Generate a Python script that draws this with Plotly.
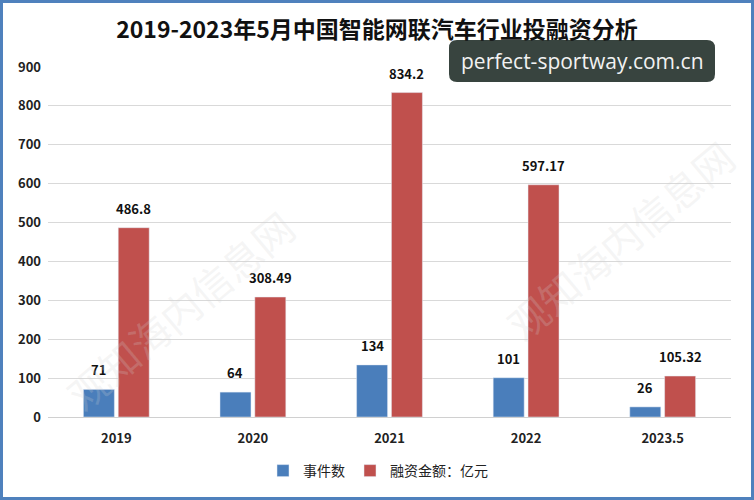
import plotly.graph_objects as go

categories = ["2019", "2020", "2021", "2022", "2023.5"]
events = [71, 64, 134, 101, 26]
amounts = [486.8, 308.49, 834.2, 597.17, 105.32]
amount_labels = ["486.8", "308.49", "834.2", "597.17", "105.32"]
y_ticks = [0, 100, 200, 300, 400, 500, 600, 700, 800, 900]

W, H = 754, 500
L, R, T, B = 48, 23, 67, 83
pw, ph = W - L - R, H - T - B

def px(x):
    return (x - L) / pw

def py(y):
    return (H - B - y) / ph

FONT = "Noto Sans CJK SC"
lab_font = dict(size=13, color="#111", family=FONT, weight="bold")
BARGAP = 0.49
slot_px = pw / len(categories) * (1 - BARGAP) / 2

fig = go.Figure()
fig.add_trace(go.Bar(x=categories, y=events, name="事件数", marker_color="#4a7ebb"))
fig.add_trace(go.Bar(x=categories, y=amounts, name="融资金额：亿元", marker_color="#c0504d"))

# value labels above bars (x given as category index)
for i, v in enumerate(events):
    fig.add_annotation(x=i, y=v, xref="x", yref="y", text=str(v), showarrow=False,
                       xanchor="center", yanchor="bottom", xshift=-slot_px / 2, yshift=8,
                       font=lab_font)
for i, (v, t) in enumerate(zip(amounts, amount_labels)):
    fig.add_annotation(x=i, y=v, xref="x", yref="y", text=t, showarrow=False,
                       xanchor="center", yanchor="bottom", xshift=slot_px / 2, yshift=8,
                       font=lab_font)

fig.update_layout(
    width=W, height=H,
    margin=dict(l=L, r=R, t=T, b=B),
    paper_bgcolor="white", plot_bgcolor="white",
    bargap=BARGAP, bargroupgap=0.11,
    title=dict(text="<b>2019-2023年5月中国智能网联汽车行业投融资分析</b>",
               x=0.5, xanchor="center", y=1 - 30 / H, yanchor="middle",
               font=dict(size=23, color="#111", family=FONT)),
    xaxis=dict(type="category", categoryorder="array", categoryarray=categories,
               tickfont=dict(size=13, color="#222", family=FONT, weight="bold"),
               showline=True, linecolor="#d0d0d0", ticks="", showgrid=False,
               ticklabelstandoff=9),
    yaxis=dict(range=[0, 900], tickvals=y_ticks, showgrid=True, gridcolor="#d9d9d9",
               zeroline=False,
               tickfont=dict(size=13, color="#222", family=FONT, weight="bold"),
               ticklabelstandoff=6),
    legend=dict(orientation="h", x=px(378), xanchor="center", y=py(471), yanchor="middle",
                font=dict(size=14, color="#222", family=FONT),
                itemwidth=30, traceorder="normal"),
    showlegend=True,
)

# Faint background watermarks
for (xx, yy) in [(180, 310), (620, 240)]:
    fig.add_annotation(x=px(xx), y=py(yy), xref="paper", yref="paper",
                       xanchor="center", yanchor="middle",
                       text="观知海内信息网", showarrow=False, textangle=-40,
                       font=dict(size=40, color="rgba(210,210,210,0.22)", family=FONT))

# Blue border around image
fig.add_shape(type="rect", xref="paper", yref="paper",
              x0=px(1.5), x1=px(W - 1.5), y0=py(H - 1.5), y1=py(1.5),
              line=dict(color="#4f81bd", width=3), layer="above")

# Dark rounded badge with site text
x0, x1, y0, y1, r = 449, 715, 40, 82, 8
path = (f"M {px(x0 + r)},{py(y0)} L {px(x1 - r)},{py(y0)} "
        f"Q {px(x1)},{py(y0)} {px(x1)},{py(y0 + r)} L {px(x1)},{py(y1 - r)} "
        f"Q {px(x1)},{py(y1)} {px(x1 - r)},{py(y1)} L {px(x0 + r)},{py(y1)} "
        f"Q {px(x0)},{py(y1)} {px(x0)},{py(y1 - r)} L {px(x0)},{py(y0 + r)} "
        f"Q {px(x0)},{py(y0)} {px(x0 + r)},{py(y0)} Z")
fig.add_shape(type="path", path=path, xref="paper", yref="paper",
              fillcolor="#38443f", line=dict(width=0), layer="above")
fig.add_annotation(x=px((x0 + x1) / 2), y=py((y0 + y1) / 2), xref="paper", yref="paper",
                   xanchor="center", yanchor="middle",
                   text="perfect-sportway.com.cn", showarrow=False,
                   font=dict(size=21, color="#f2f2f2", family="Open Sans"))

fig.write_html("out.html")
